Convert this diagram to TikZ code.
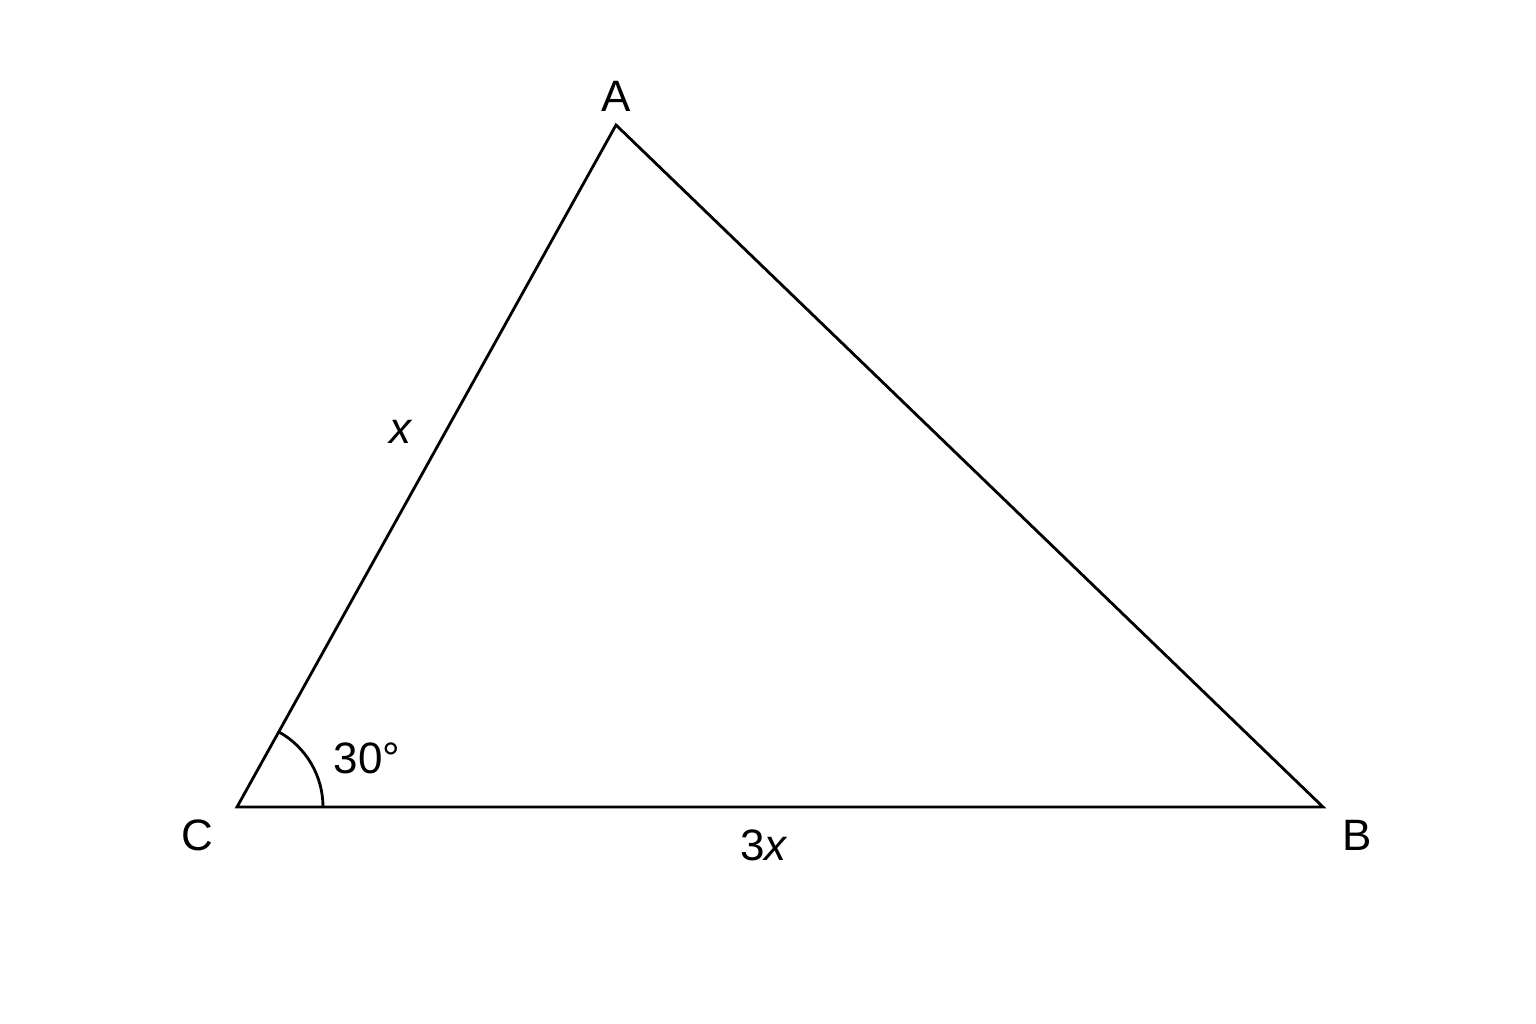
\documentclass[tikz,border=0pt]{standalone}
\usepackage{fontspec}
\setmainfont{Liberation Sans}
\begin{document}
\begin{tikzpicture}[x=0.01cm,y=-0.01cm,
  lbl/.style={font=\fontsize{12.5pt}{14pt}\selectfont, inner sep=0pt},
  edge/.style={line width=0.8pt, line join=miter}]
\useasboundingbox[fill=white] (0,0) rectangle (1536,1024);
\coordinate (C) at (237,807);
\coordinate (B) at (1323,807);
\coordinate (A) at (616,125);
\draw[edge] (A) -- (B) -- (C) -- cycle;
\draw[edge] (323,807) arc[start angle=0, end angle=-60.9, radius=86];
\node[lbl] (la) at (616,96) {A};
\node[lbl] (lb) at (1357,835) {B};
\node[lbl] (lc) at (197,835) {C};
\node[lbl] (lx) at (401,432) {\textit{x}};
\node[lbl] (l3x) at (764,845) {3\textit{x}};
\node[lbl] (lang) at (367,758) {30°};
\end{tikzpicture}
\end{document}
